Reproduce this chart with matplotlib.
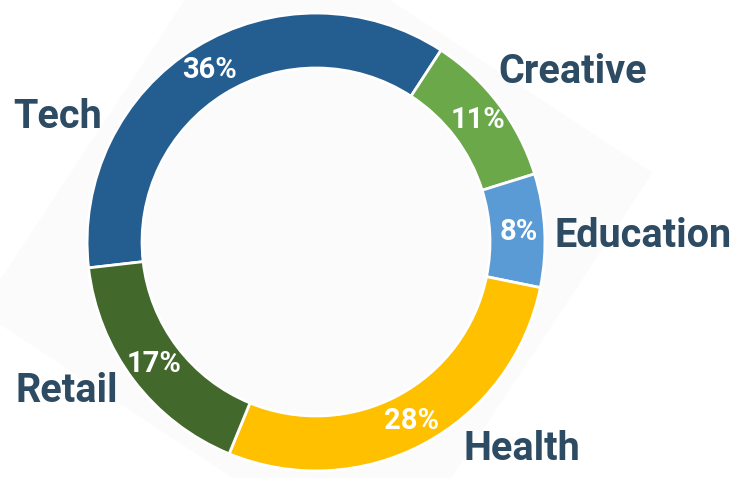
import matplotlib.pyplot as plt
import numpy as np
from matplotlib.patches import Polygon

plt.rcParams['font.family'] = ['Roboto', 'DejaVu Sans']

# data
sectors = ['Tech', 'Creative', 'Education', 'Health', 'Retail']
shares = [36, 11, 8, 28, 17]
colors = ['#245d90', '#6aa84a', '#5b9bd5', '#ffc000', '#43682b']

# where the sector names sit (data units, radius = 1), baseline anchored
name_xy = [(-1.13, 0.50), (1.12, 0.694), (1.43, -0.022), (0.90, -0.952), (-1.09, -0.699)]

fig = plt.figure(figsize=(7.41, 4.78), dpi=100)
ax = fig.add_axes([0, 0, 1, 1])
ax.set_aspect('equal')
ax.axis('off')

# faint rotated square behind the ring
ang = np.deg2rad(11.6 + 90 * np.arange(4))
sq = Polygon(np.column_stack([1.5 * np.cos(ang), 1.5 * np.sin(ang)]),
             closed=True, facecolor='#fbfbfb', edgecolor='none', zorder=0)
ax.add_patch(sq)

wedges, texts, autotexts = ax.pie(
    shares, colors=colors, startangle=186.5, counterclock=False,
    radius=1.0, autopct='%d%%', pctdistance=0.885,
    wedgeprops=dict(width=0.24, edgecolor='white', linewidth=2),
    textprops=dict(color='white', fontsize=21, fontweight='bold'))
for w in wedges:
    w.set_zorder(2)
for t in autotexts:
    t.set_zorder(3)

ax.set_xlim(-1.380, 1.856)
ax.set_ylim(-1.031, 1.057)

for name, (x, y) in zip(sectors, name_xy):
    ax.text(x, y, name, ha='center', va='baseline', fontsize=28.5,
            fontweight='bold', color='#2d4b62', zorder=4)

fig.savefig('out.png', dpi=100)
